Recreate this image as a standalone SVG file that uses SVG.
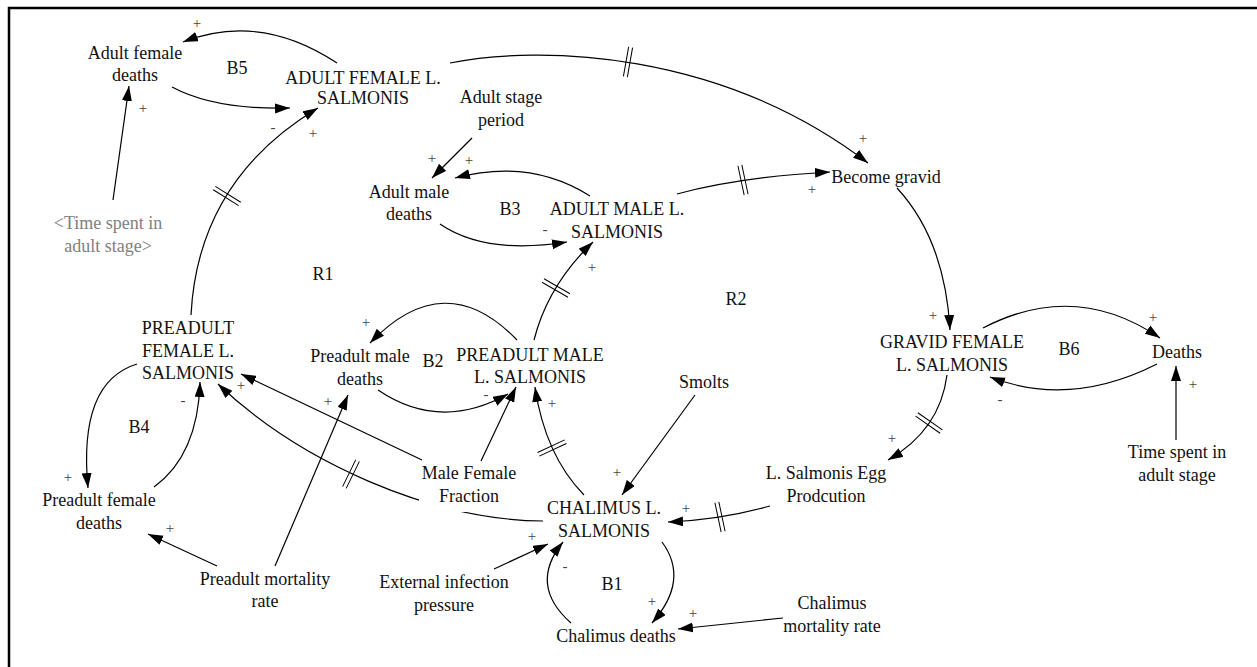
<svg xmlns="http://www.w3.org/2000/svg" xmlns:xlink="http://www.w3.org/1999/xlink" width="1257" height="667" viewBox="0 0 1257 667">
<style>
.t{font-family:"Liberation Serif","Times New Roman",serif;font-size:18px;text-anchor:middle;fill:#111}
.g{fill:#808080}
.s{font-family:"Liberation Serif","Times New Roman",serif;font-size:15px;text-anchor:middle;fill:#444}
.c{fill:none;stroke:#000;stroke-width:1.2;marker-end:url(#ah)}
.h{fill:none;stroke:#000;stroke-width:1}
</style>
<defs>
<marker id="ah" markerUnits="userSpaceOnUse" markerWidth="16" markerHeight="11" refX="15" refY="5" orient="auto"><path d="M0,0 L15,5 L0,10 z" fill="#000"/></marker>
<path id="hs" class="h" d="M-2,-15V15M2,-15V15"/>
</defs>
<rect x="9" y="8" width="1300" height="700" fill="#fff" stroke="#000" stroke-width="2.5"/>
<g id="connectors">
<path class="c" d="M337,63 Q260,12 183,42"/>
<path class="c" d="M172,87 Q215,110 290,108"/>
<path class="c" d="M113,200 L129,86"/>
<path class="c" d="M191,315 Q198,180 318,108"/>
<path class="c" d="M450,63 C540,45 720,50 868,163"/>
<path class="c" d="M472,138 L432,178"/>
<path class="c" d="M590,196 Q530,158 455,178"/>
<path class="c" d="M440,224 Q485,255 567,242"/>
<path class="c" d="M677,194 Q740,177 830,172"/>
<path class="c" d="M897,188 Q945,240 950,330"/>
<path class="c" d="M983,328 Q1075,280 1160,338"/>
<path class="c" d="M1157,364 Q1070,408 990,377"/>
<path class="c" d="M1176,440 L1176,366"/>
<path class="c" d="M947,375 Q940,430 888,460"/>
<path class="c" d="M770,506 Q720,520 668,522"/>
<path class="c" d="M695,395 L622,495"/>
<path class="c" d="M494,569 L548,544"/>
<path class="c" d="M662,542 Q690,580 652,623"/>
<path class="c" d="M571,623 Q528,585 563,542"/>
<path class="c" d="M783,618 L678,629"/>
<path class="c" d="M584,495 Q545,455 535,387"/>
<path class="c" d="M543,521 C430,520 300,462 218,384"/>
<path class="c" d="M422,460 L241,374"/>
<path class="c" d="M481,461 L516,387"/>
<path class="c" d="M378,390 Q440,432 508,394"/>
<path class="c" d="M517,340 Q445,265 370,343"/>
<path class="c" d="M534,340 Q548,285 593,242"/>
<path class="c" d="M275,566 L348,395"/>
<path class="c" d="M217,566 L148,534"/>
<path class="c" d="M137,364 Q78,382 88,488"/>
<path class="c" d="M154,487 Q198,455 200,382"/>
<use xlink:href="#hs" transform="translate(227,196) rotate(-58)"/>
<use xlink:href="#hs" transform="translate(628,62) rotate(10)"/>
<use xlink:href="#hs" transform="translate(743,180) rotate(-12)"/>
<use xlink:href="#hs" transform="translate(929,423) rotate(125)"/>
<use xlink:href="#hs" transform="translate(720,517) rotate(168)"/>
<use xlink:href="#hs" transform="translate(552,448) rotate(-115)"/>
<use xlink:href="#hs" transform="translate(351,474) rotate(206)"/>
<use xlink:href="#hs" transform="translate(556,288) rotate(-60)"/>
</g>
<g id="signs">
<text class="s" x="197" y="28">+</text>
<text class="s" x="143" y="113">+</text>
<text class="s" x="273" y="132">-</text>
<text class="s" x="313" y="138">+</text>
<text class="s" x="432" y="163">+</text>
<text class="s" x="469" y="165">+</text>
<text class="s" x="863" y="143">+</text>
<text class="s" x="812" y="194">+</text>
<text class="s" x="545" y="234">-</text>
<text class="s" x="592" y="272">+</text>
<text class="s" x="366" y="327">+</text>
<text class="s" x="933" y="320">+</text>
<text class="s" x="1153" y="322">+</text>
<text class="s" x="1000" y="404">-</text>
<text class="s" x="1193" y="389">+</text>
<text class="s" x="892" y="443">+</text>
<text class="s" x="183" y="405">-</text>
<text class="s" x="241" y="390">+</text>
<text class="s" x="328" y="406">+</text>
<text class="s" x="486" y="399">-</text>
<text class="s" x="552" y="408">+</text>
<text class="s" x="68" y="482">+</text>
<text class="s" x="170" y="533">+</text>
<text class="s" x="617" y="477">+</text>
<text class="s" x="686" y="513">+</text>
<text class="s" x="532" y="541">+</text>
<text class="s" x="565" y="571">-</text>
<text class="s" x="652" y="606">+</text>
<text class="s" x="693" y="618">+</text>
</g>
<g id="loops">
<text class="t" x="237" y="74">B5</text>
<text class="t" x="510" y="215">B3</text>
<text class="t" x="323" y="280">R1</text>
<text class="t" x="736" y="305">R2</text>
<text class="t" x="433" y="367">B2</text>
<text class="t" x="1069" y="355">B6</text>
<text class="t" x="139" y="433">B4</text>
<text class="t" x="612" y="590">B1</text>
</g>
<g id="n-adult-female-deaths"><text class="t" x="135" y="59">Adult female</text><text class="t" x="135" y="81">deaths</text></g>
<g id="n-adult-female"><text class="t" x="363" y="84">ADULT FEMALE L.</text><text class="t" x="363" y="104">SALMONIS</text></g>
<g id="n-adult-stage-period"><text class="t" x="501" y="103">Adult stage</text><text class="t" x="501" y="126">period</text></g>
<g id="n-adult-male-deaths"><text class="t" x="409" y="198">Adult male</text><text class="t" x="409" y="220">deaths</text></g>
<g id="n-adult-male"><text class="t" x="617" y="215">ADULT MALE L.</text><text class="t" x="617" y="238">SALMONIS</text></g>
<g id="n-become-gravid"><text class="t" x="886" y="183">Become gravid</text></g>
<g id="n-time-spent-shadow"><text class="t g" x="108" y="229">&lt;Time spent in</text><text class="t g" x="108" y="252">adult stage&gt;</text></g>
<g id="n-preadult-female"><text class="t" x="188" y="334">PREADULT</text><text class="t" x="188" y="357">FEMALE L.</text><text class="t" x="188" y="379">SALMONIS</text></g>
<g id="n-preadult-male-deaths"><text class="t" x="360" y="362">Preadult male</text><text class="t" x="360" y="385">deaths</text></g>
<g id="n-preadult-male"><text class="t" x="530" y="361">PREADULT MALE</text><text class="t" x="530" y="383">L. SALMONIS</text></g>
<g id="n-gravid-female"><text class="t" x="952" y="348">GRAVID FEMALE</text><text class="t" x="952" y="371">L. SALMONIS</text></g>
<g id="n-deaths"><text class="t" x="1177" y="358">Deaths</text></g>
<g id="n-smolts"><text class="t" x="704" y="388">Smolts</text></g>
<g id="n-male-female-fraction"><rect x="419" y="463" width="100" height="49" fill="#fff"/><text class="t" x="469" y="479">Male Female</text><text class="t" x="469" y="502">Fraction</text></g>
<g id="n-chalimus"><text class="t" x="604" y="514">CHALIMUS L.</text><text class="t" x="604" y="537">SALMONIS</text></g>
<g id="n-egg-production"><text class="t" x="826" y="479">L. Salmonis Egg</text><text class="t" x="826" y="502">Prodcution</text></g>
<g id="n-time-spent"><text class="t" x="1177" y="458">Time spent in</text><text class="t" x="1177" y="481">adult stage</text></g>
<g id="n-preadult-female-deaths"><text class="t" x="99" y="506">Preadult female</text><text class="t" x="99" y="529">deaths</text></g>
<g id="n-preadult-mortality"><text class="t" x="265" y="585">Preadult mortality</text><text class="t" x="265" y="607">rate</text></g>
<g id="n-external-infection"><text class="t" x="444" y="588">External infection</text><text class="t" x="444" y="611">pressure</text></g>
<g id="n-chalimus-deaths"><text class="t" x="616" y="642">Chalimus deaths</text></g>
<g id="n-chalimus-mortality"><text class="t" x="832" y="609">Chalimus</text><text class="t" x="832" y="632">mortality rate</text></g>
</svg>
